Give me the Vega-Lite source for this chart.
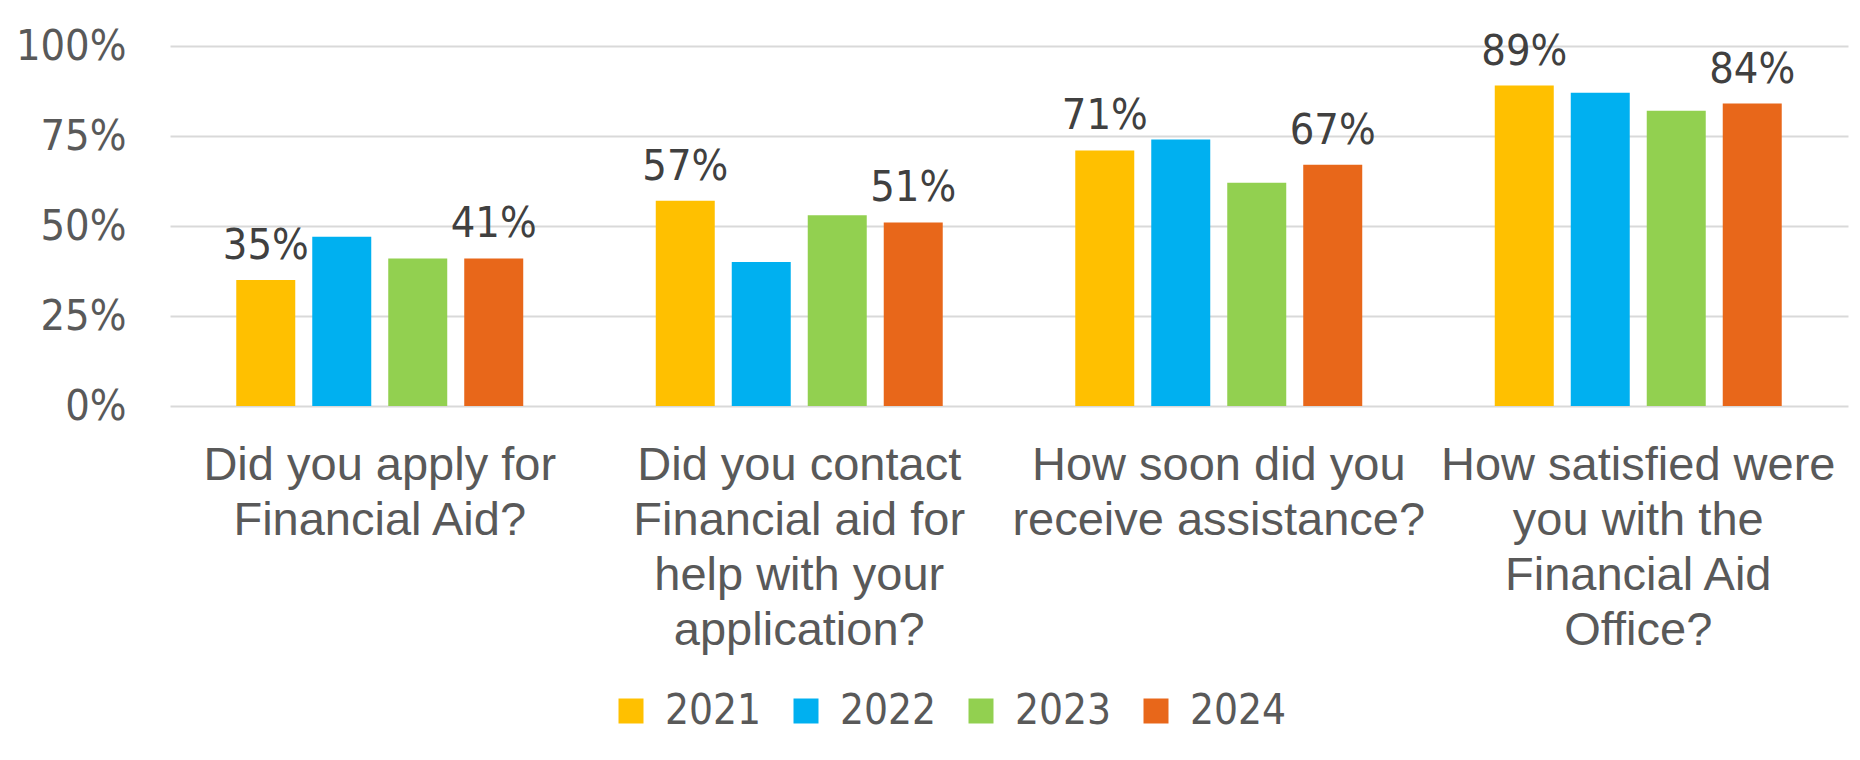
{
  "$schema": "https://vega.github.io/schema/vega-lite/v6.json",
  "width": 1678,
  "height": 360,
  "autosize": {"type": "none"},
  "padding": {"left": 170, "top": 46, "right": 12, "bottom": 354},
  "background": "white",
  "config": {"view": {"stroke": null}},
  "data": {
    "values": [
      {"q": "Did you apply for\nFinancial Aid?", "year": "2021", "v": 0.35},
      {"q": "Did you apply for\nFinancial Aid?", "year": "2022", "v": 0.47},
      {"q": "Did you apply for\nFinancial Aid?", "year": "2023", "v": 0.41},
      {"q": "Did you apply for\nFinancial Aid?", "year": "2024", "v": 0.41},
      {"q": "Did you contact\nFinancial aid for\nhelp with your\napplication?", "year": "2021", "v": 0.57},
      {"q": "Did you contact\nFinancial aid for\nhelp with your\napplication?", "year": "2022", "v": 0.40},
      {"q": "Did you contact\nFinancial aid for\nhelp with your\napplication?", "year": "2023", "v": 0.53},
      {"q": "Did you contact\nFinancial aid for\nhelp with your\napplication?", "year": "2024", "v": 0.51},
      {"q": "How soon did you\nreceive assistance?", "year": "2021", "v": 0.71},
      {"q": "How soon did you\nreceive assistance?", "year": "2022", "v": 0.74},
      {"q": "How soon did you\nreceive assistance?", "year": "2023", "v": 0.62},
      {"q": "How soon did you\nreceive assistance?", "year": "2024", "v": 0.67},
      {"q": "How satisfied were\nyou with the\nFinancial Aid\nOffice?", "year": "2021", "v": 0.89},
      {"q": "How satisfied were\nyou with the\nFinancial Aid\nOffice?", "year": "2022", "v": 0.87},
      {"q": "How satisfied were\nyou with the\nFinancial Aid\nOffice?", "year": "2023", "v": 0.82},
      {"q": "How satisfied were\nyou with the\nFinancial Aid\nOffice?", "year": "2024", "v": 0.84}
    ]
  },
  "encoding": {
    "x": {
      "field": "q",
      "type": "nominal",
      "sort": null,
      "scale": {"paddingInner": 0, "paddingOuter": 0},
      "axis": {
        "title": null,
        "labelAngle": 0,
        "labelExpr": "split(datum.label, '\\n')",
        "labelFont": "Liberation Sans",
        "labelFontSize": 47,
        "labelColor": "#595959",
        "labelLineHeight": 55,
        "labelBaseline": "top",
        "labelPadding": 36,
        "labelLimit": 1000,
        "ticks": false,
        "domain": false
      }
    },
    "xOffset": {
      "field": "year",
      "type": "nominal",
      "scale": {"paddingInner": 0.2237, "paddingOuter": 0.872}
    },
    "y": {
      "field": "v",
      "type": "quantitative",
      "scale": {"domain": [0, 1]},
      "axis": {
        "title": null,
        "values": [0, 0.25, 0.5, 0.75, 1],
        "format": ".0%",
        "labelFont": "DejaVu Sans Condensed, Lato, sans-serif",
        "labelFontSize": 43,
        "labelColor": "#595959",
        "labelPadding": 44,
        "ticks": false,
        "domain": false,
        "gridColor": "#d9d9d9",
        "gridWidth": 2
      }
    }
  },
  "layer": [
    {
      "mark": {"type": "bar"},
      "encoding": {
        "color": {
          "field": "year",
          "type": "nominal",
          "scale": {
            "domain": ["2021", "2022", "2023", "2024"],
            "range": ["#FFC000", "#00B0F0", "#92D050", "#E8671A"]
          },
          "legend": {
            "title": null,
            "orient": "none",
            "direction": "horizontal",
            "legendX": 440,
            "legendY": 644,
            "symbolType": "square",
            "symbolSize": 625,
            "symbolStrokeWidth": 0,
            "symbolOpacity": 1,
            "labelFont": "DejaVu Sans Condensed, Lato, sans-serif",
            "labelFontSize": 42,
            "labelColor": "#595959",
            "labelOffset": 13,
            "columnPadding": 23
          }
        }
      }
    },
    {
      "transform": [{"filter": "datum.year == '2021' || datum.year == '2024'"}],
      "mark": {
        "type": "text",
        "baseline": "alphabetic",
        "align": "center",
        "dy": -21,
        "font": "DejaVu Sans Condensed, Lato, sans-serif",
        "fontSize": 43,
        "color": "#404040"
      },
      "encoding": {
        "text": {"field": "v", "type": "quantitative", "format": ".0%"}
      }
    }
  ]
}
